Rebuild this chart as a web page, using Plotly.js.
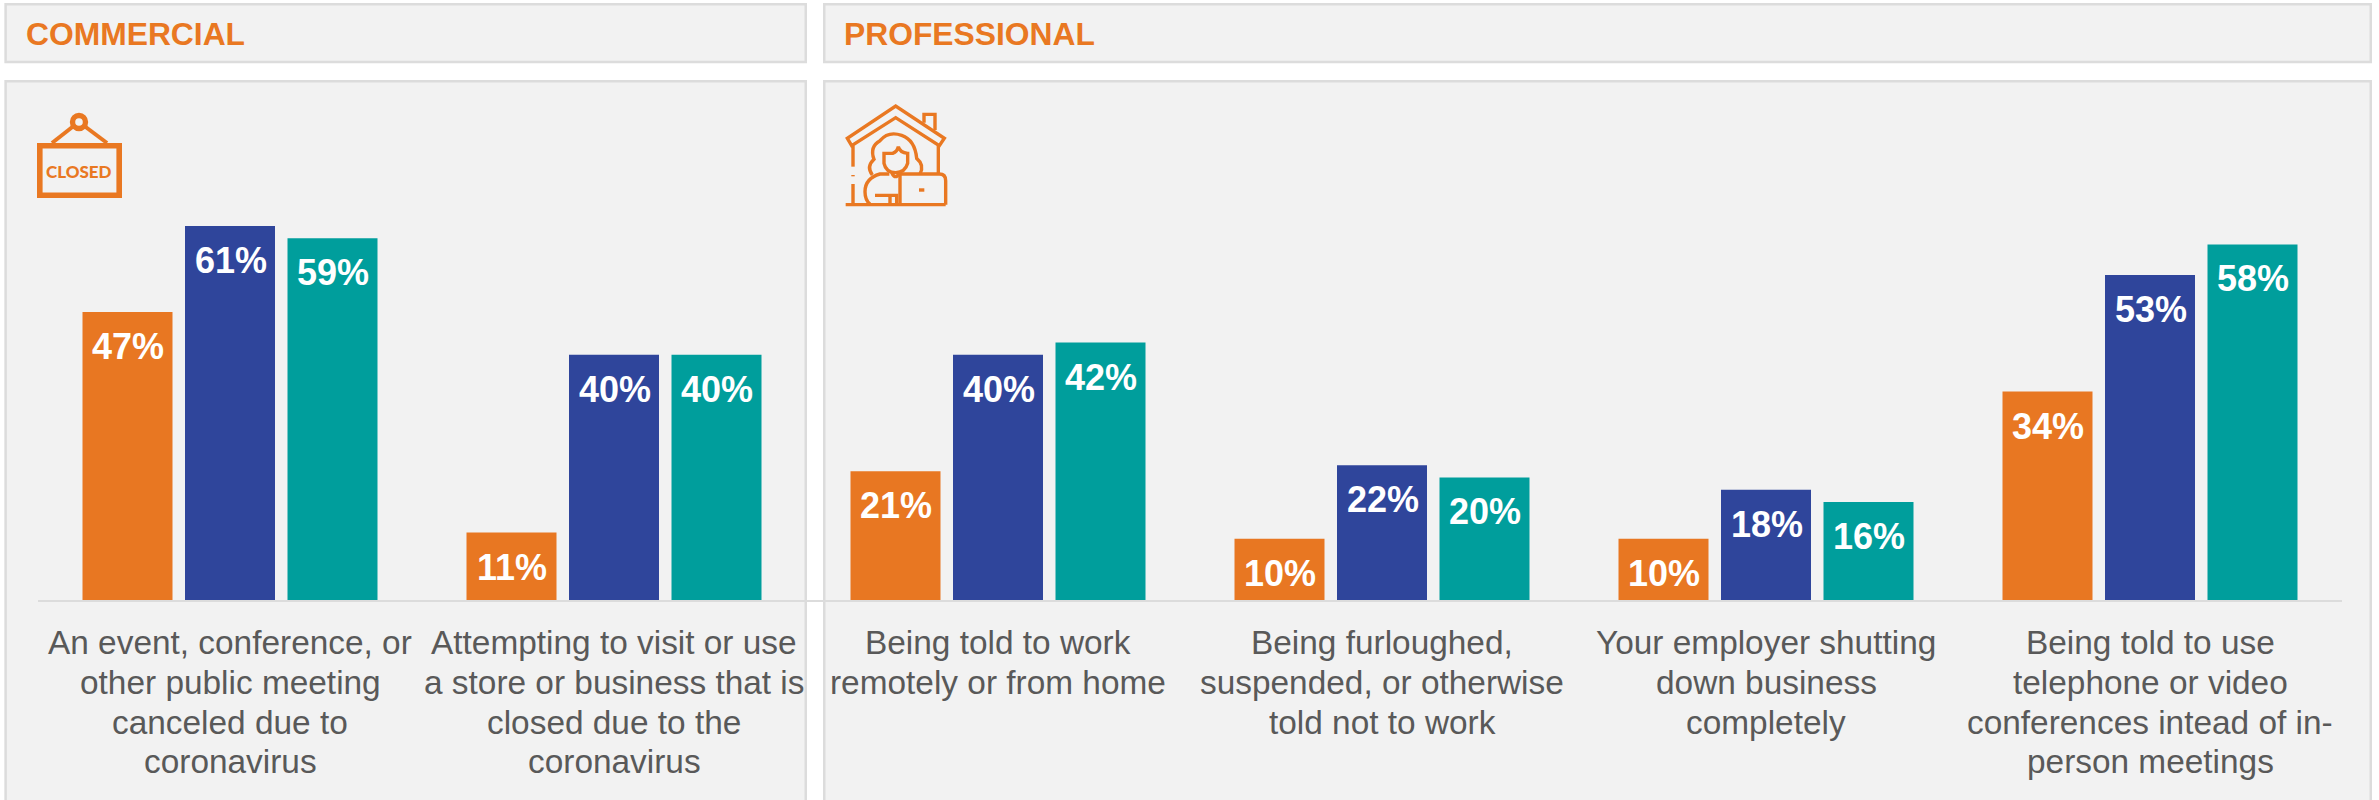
<!DOCTYPE html>
<html>
<head>
<meta charset="utf-8">
<script src="https://cdn.plot.ly/plotly-3.0.1.min.js"></script>
<style>html,body{margin:0;padding:0;background:#fff;overflow:hidden}</style>
</head>
<body>
<div id="chart" style="width:2379px;height:800px"></div>
<script>
// Survey results by work setting
const categories = [
  ["An event, conference, or", "other public meeting", "canceled due to", "coronavirus"],
  ["Attempting to visit or use", "a store or business that is", "closed due to the", "coronavirus"],
  ["Being told to work", "remotely or from home"],
  ["Being furloughed,", "suspended, or otherwise", "told not to work"],
  ["Your employer shutting", "down business", "completely"],
  ["Being told to use", "telephone or video", "conferences intead of in-", "person meetings"]
];
const seriesA = [47, 11, 21, 10, 10, 34];
const seriesB = [61, 40, 40, 22, 18, 53];
const seriesC = [59, 40, 42, 20, 16, 58];
const seriesNames = ["Series 1", "Series 2", "Series 3"];
const seriesColors = ["#E87722", "#2F459B", "#009E9C"];
const sectionTitles = ["COMMERCIAL", "PROFESSIONAL"];

const W = 2379, H = 800;
const ORANGE = "#E97822", BORDER = "#DCDCDC", PANEL = "#F2F2F2", TEXT = "#595959";
const FONT = '"Liberation Sans", Arial, sans-serif';
const fx = px => px / W;
const fy = px => 1 - px / H;
const xIdx = categories.map((_, i) => i);
const allSeries = [seriesA, seriesB, seriesC];

const traces = allSeries.map((vals, s) => ({
  type: "bar", x: xIdx, y: vals, name: seriesNames[s],
  marker: {color: seriesColors[s], line: {width: 0}},
  hoverinfo: "y"
}));

// Background panels
function panel(x0, x1, y0, y1) {
  return {type: "rect", xref: "paper", yref: "paper", layer: "below",
    x0: fx(x0), x1: fx(x1), y0: fy(y0), y1: fy(y1),
    fillcolor: PANEL, line: {color: BORDER, width: 2.5}};
}
const shapes = [
  panel(5.6, 805.75, 4.25, 62), panel(824.25, 2370.75, 4.25, 62),
  panel(5.6, 805.75, 81.25, 812), panel(824.25, 2370.75, 81.25, 812)
];

// Outline icons: paths written in a local grid, placed in page pixels
function iconPath(d, ox, oy, s) {
  return d.replace(/(-?[\d.]+),(-?[\d.]+)/g, (_, a, b) =>
    (ox + a * s).toFixed(2) + "," + (-(oy + b * s)).toFixed(2));
}
function stroke(d, ox, oy, s, width) {
  return {type: "path", xref: "paper", yref: "paper", xsizemode: "pixel", ysizemode: "pixel",
    xanchor: 0, yanchor: 1, path: iconPath(d, ox, oy, s), fillcolor: "rgba(0,0,0,0)",
    line: {color: ORANGE, width: width}};
}
// Hanging sign
shapes.push(stroke("M39.8,145.8 L119.2,145.8 L119.2,195.2 L39.8,195.2 Z", 0, 0, 1, 5.6));
shapes.push(stroke("M73,126.5 L52,143", 0, 0, 1, 4));
shapes.push(stroke("M85,126.5 L107,143", 0, 0, 1, 4));
shapes.push({type: "circle", xref: "paper", yref: "paper",
  x0: fx(79 - 6.5), x1: fx(79 + 6.5), y0: fy(122 + 6.5), y1: fy(122 - 6.5),
  fillcolor: "rgba(0,0,0,0)", line: {color: ORANGE, width: 5.4}});
// House with a person at a laptop
const housePaths = [
  "M215,287 L202,265 L347,168 L493,265 L478,287 L347,203 Z",
  "M432,218 L432,193 L465,193 L465,240",
  "M219,287 L219,350", "M219,375 L219,379", "M219,402 L219,462",
  "M475,287 L475,372",
  "M197,464 L497,464",
  "M360,462 L360,372 L478,372 Q497,372 497,392 L497,464",
  "M417,420 L433,420",
  "M277,375 Q258,350 282,328 Q268,290 300,272 Q325,242 365,256 Q405,270 410,325 Q434,345 420,372",
  "M312,310 L338,310 Q352,305 355,290 Q360,308 383,310 L383,340 Q375,368 347,368 Q318,368 312,340 Z",
  "M335,368 Q347,392 358,368",
  "M328,372 L300,372 Q255,385 255,425 Q255,450 270,462",
  "M285,436 L350,436 L350,462", "M330,436 L330,462"
];
housePaths.forEach(d => shapes.push(stroke(d, 780, 50, 1 / 3, 3.4)));

// Text
const annotations = [];
function pageText(text, x, y, size, color, bold, anchor) {
  annotations.push({xref: "paper", yref: "paper", x: fx(x), y: fy(y), text: bold ? "<b>" + text + "</b>" : text,
    showarrow: false, xanchor: anchor, yanchor: "middle", font: {family: FONT, size: size, color: color},
    borderpad: 0, borderwidth: 0});
}
pageText(sectionTitles[0], 26, 34, 31.8, ORANGE, true, "left");
pageText(sectionTitles[1], 844, 34, 31.8, ORANGE, true, "left");
// Sign lettering in a heavier face than the section titles
annotations.push({xref: "paper", yref: "paper", x: fx(79), y: fy(171), text: "CLOSED", showarrow: false,
  xanchor: "center", yanchor: "middle", font: {family: "Lato, " + FONT, size: 17, weight: 900, color: ORANGE}});

// Value labels sit inside each bar, below its top edge
const barPitch = 102.5 / 384;
allSeries.forEach((vals, s) => vals.forEach((v, i) => {
  annotations.push({x: i + (s - 1) * barPitch, y: v, xref: "x", yref: "y", text: "<b>" + v + "%</b>",
    showarrow: false, xanchor: "center", yanchor: "top", yshift: -12, xshift: 0.6,
    font: {family: FONT, size: 36, color: "#FFFFFF"}});
}));

// Category captions, one annotation per line for a tight line pitch
categories.forEach((lines, i) => lines.forEach((line, k) => {
  annotations.push({x: i, y: 0, xref: "x", yref: "y", text: line, showarrow: false,
    xanchor: "center", yanchor: "top", yshift: -22 - 39.8 * k,
    font: {family: FONT, size: 33.4, color: TEXT}});
}));

const layout = {
  width: W, height: H, autosize: false,
  margin: {l: 0, r: 0, t: 0, b: 0, pad: 0},
  paper_bgcolor: "#FFFFFF", plot_bgcolor: "rgba(0,0,0,0)",
  showlegend: false,
  barmode: "group", bargap: 0.1992, bargroupgap: 0.122,
  xaxis: {domain: [38 / W, 2342 / W], range: [-0.5, 5.5], tickmode: "array", tickvals: xIdx,
    showticklabels: false, ticks: "", showgrid: false, zeroline: false,
    showline: true, linecolor: BORDER, linewidth: 2},
  yaxis: {domain: [0.25, 0.875], range: [0, 500 / 6.13], visible: false, showgrid: false, zeroline: false},
  shapes: shapes, annotations: annotations
};
Plotly.newPlot("chart", traces, layout, {displayModeBar: false, staticPlot: true});
</script>
</body>
</html>
